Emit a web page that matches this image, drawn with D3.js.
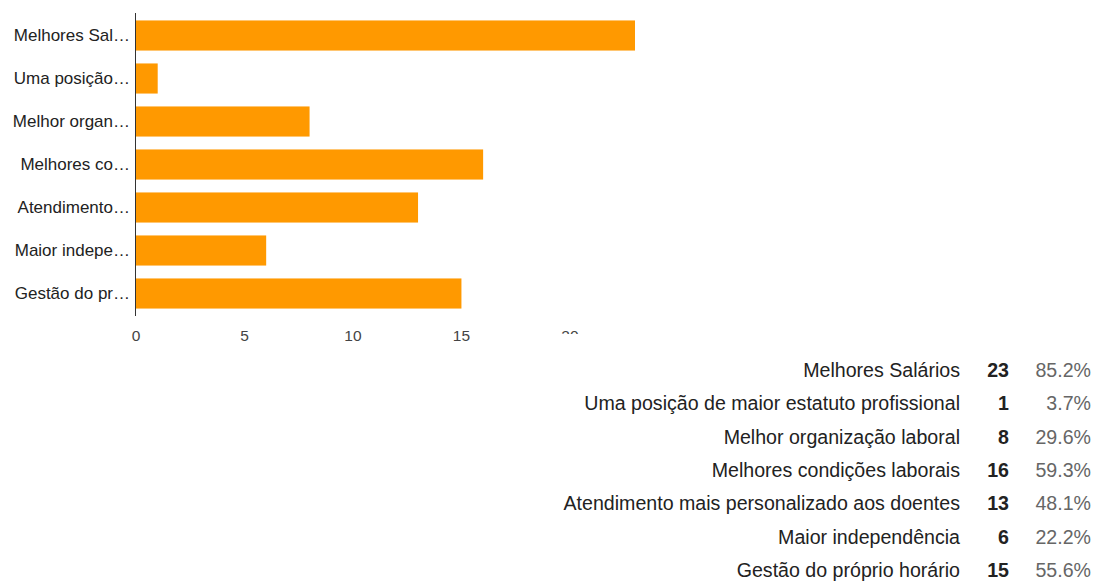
<!DOCTYPE html>
<html>
<head>
<meta charset="utf-8">
<script src="https://cdn.jsdelivr.net/npm/d3@7"></script>
<style>
  body { margin: 0; background: #fff; }
  svg { display: block; font-family: Arial, "Liberation Sans", sans-serif; }
</style>
</head>
<body>
<div id="chart"></div>
<script>
var categories = [
    "Melhores Salários",
    "Uma posição de maior estatuto profissional",
    "Melhor organização laboral",
    "Melhores condições laborais",
    "Atendimento mais personalizado aos doentes",
    "Maior independência",
    "Gestão do próprio horário"
];
var counts = [23, 1, 8, 16, 13, 6, 15];
var respondents = 27;
var xTicks = [0, 5, 10, 15, 20];

var width = 1094, height = 581;
var plot = {left: 136, right: 635, top: 14, bottom: 315};
var barColor = "#ff9900";

var svg = d3.select("#chart").append("svg")
    .attr("width", width)
    .attr("height", height);

var xScale = d3.scaleLinear()
    .domain([0, d3.max(counts)])
    .range([plot.left, plot.right]);
var yScale = d3.scaleBand()
    .domain(categories)
    .range([plot.top, plot.bottom])
    .paddingInner(0.3)
    .paddingOuter(0.15);

// bars
svg.append("g").selectAll("rect").data(categories)
    .enter()
    .append("rect")
    .attr("x", xScale(0))
    .attr("y", function(d) { return yScale(d); })
    .attr("width", function(d, i) { return xScale(counts[i]) - xScale(0); })
    .attr("height", yScale.bandwidth())
    .attr("fill", barColor);

// vertical axis line
svg.append("line")
    .attr("x1", plot.left - 0.5).attr("x2", plot.left - 0.5)
    .attr("y1", plot.top - 1).attr("y2", plot.bottom + 1)
    .attr("stroke", "#333")
    .attr("stroke-width", 1);

// truncate category labels to fit the gutter
function fitText(sel, maxW) {
    sel.each(function(d) {
        var t = d3.select(this);
        t.text(d);
        if (this.getComputedTextLength() <= maxW) return;
        var s = d;
        while (s.length > 1) {
            s = s.slice(0, -1);
            t.text(s.replace(/\s+$/, "") + "\u2026");
            if (this.getComputedTextLength() <= maxW) break;
        }
    });
}

var yLabels = svg.append("g").selectAll("text").data(categories)
    .enter()
    .append("text")
    .attr("x", plot.left - 6)
    .attr("y", function(d) { return yScale(d) + yScale.bandwidth() / 2; })
    .attr("dy", "0.35em")
    .attr("text-anchor", "end")
    .attr("font-size", 17)
    .attr("fill", "#222");
fitText(yLabels, 118);

// x tick labels (the last one is cut off in the original)
svg.append("defs").append("clipPath").attr("id", "cut")
    .append("rect").attr("x", 0).attr("y", 0).attr("width", width).attr("height", 334);

svg.append("g").selectAll("text").data(xTicks)
    .enter()
    .append("text")
    .attr("x", function(d) { return xScale(d); })
    .attr("y", 341)
    .attr("text-anchor", "middle")
    .attr("font-size", 15.5)
    .attr("fill", "#444")
    .attr("clip-path", function(d, i) { return i === xTicks.length - 1 ? "url(#cut)" : null; })
    .text(function(d) { return d; });

// summary table
var rowY = d3.scalePoint()
    .domain(categories)
    .range([377, 577]);
var table = svg.append("g").attr("font-size", 19.6);
table.selectAll("text.lbl").data(categories)
    .enter()
    .append("text")
    .attr("class", "lbl")
    .attr("x", 960)
    .attr("y", function(d) { return rowY(d); })
    .attr("text-anchor", "end")
    .attr("fill", "#222")
    .text(function(d) { return d; });
table.selectAll("text.cnt").data(categories)
    .enter()
    .append("text")
    .attr("class", "cnt")
    .attr("x", 1009)
    .attr("y", function(d) { return rowY(d); })
    .attr("text-anchor", "end")
    .attr("font-weight", "bold")
    .attr("fill", "#222")
    .text(function(d, i) { return counts[i]; });
table.selectAll("text.pct").data(categories)
    .enter()
    .append("text")
    .attr("class", "pct")
    .attr("x", 1091)
    .attr("y", function(d) { return rowY(d); })
    .attr("text-anchor", "end")
    .attr("fill", "#666")
    .text(function(d, i) { return (counts[i] / respondents * 100).toFixed(1) + "%"; });
</script>
</body>
</html>
